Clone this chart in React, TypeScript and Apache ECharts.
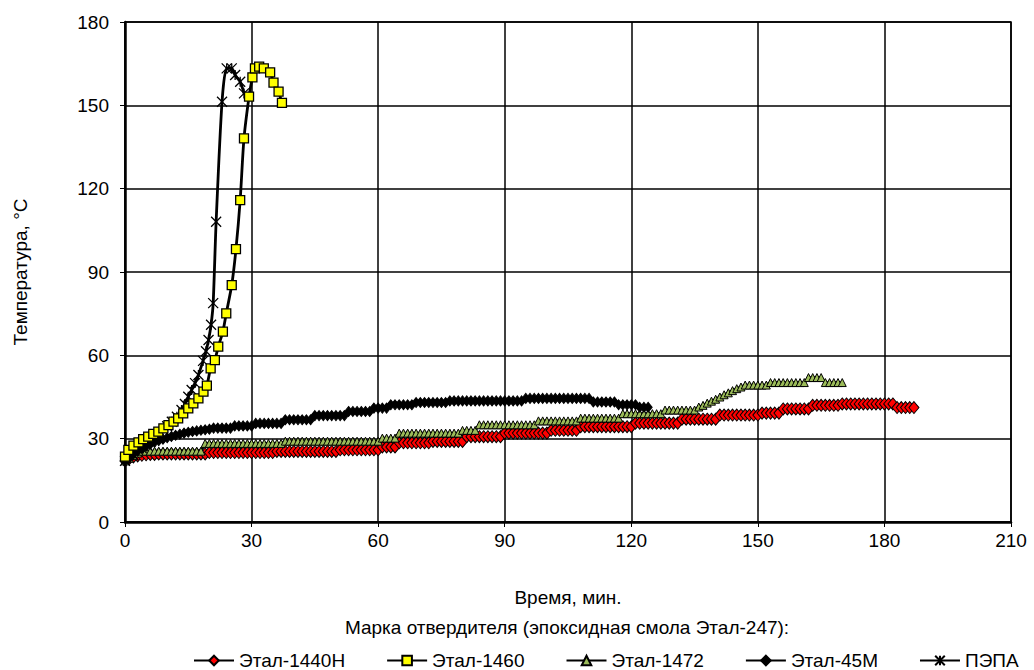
import React, { useEffect, useRef } from "react";
import * as echarts from "echarts";

const FONT = "Liberation Sans";

const seriesNames = ["Этал-1440Н", "Этал-1460", "Этал-1472", "Этал-45М", "ПЭПА"];
const xTicks = [0, 30, 60, 90, 120, 150, 180, 210];
const yTicks = [0, 30, 60, 90, 120, 150, 180];

// Этал-1440Н: one reading per minute, t = 0..187
const etal1440 = [
  22.0, 22.8, 23.4, 23.8, 24.0, 24.2, 24.3, 24.3,
  24.5, 24.5, 24.5, 24.5, 24.5, 24.5, 24.5, 24.5, 24.5, 24.5, 24.5, 24.5,
  25.0, 25.0, 25.0, 25.0, 25.0, 25.0, 25.0, 25.0, 25.0, 25.0, 25.0, 25.0, 25.0, 25.0, 25.0, 25.0,
  25.4, 25.4, 25.4, 25.4, 25.4, 25.4, 25.4, 25.4, 25.4, 25.4, 25.4, 25.4, 25.4, 25.4, 25.4,
  26.0, 26.0, 26.0, 26.0, 26.0, 26.0, 26.0, 26.0, 26.0, 26.0,
  27.0, 27.0, 27.0, 27.0,
  28.5, 28.5, 28.5, 28.5, 28.5, 28.5, 28.5, 28.5,
  29.0, 29.0, 29.0, 29.0, 29.0, 29.0, 29.0, 29.0,
  30.7, 30.7, 30.7, 30.7, 30.7, 30.7, 30.7, 30.7, 30.7,
  32.0, 32.0, 32.0, 32.0, 32.0, 32.0, 32.0, 32.0, 32.0, 32.0, 32.0,
  33.0, 33.0, 33.0, 33.0, 33.0, 33.0, 33.0,
  34.3, 34.3, 34.3, 34.3, 34.3, 34.3, 34.3, 34.3, 34.3, 34.3, 34.3, 34.3, 34.3,
  35.6, 35.6, 35.6, 35.6, 35.6, 35.6, 35.6, 35.6, 35.6, 35.6, 35.6,
  37.0, 37.0, 37.0, 37.0, 37.0, 37.0, 37.0, 37.0, 37.0,
  38.5, 38.5, 38.5, 38.5, 38.5, 38.5, 38.5, 38.5, 38.5, 38.5,
  39.2, 39.2, 39.2, 39.2, 39.2,
  40.7, 40.7, 40.7, 40.7, 40.7, 40.7, 40.7,
  42.0, 42.0, 42.0, 42.0, 42.0, 42.0, 42.0,
  42.5, 42.5, 42.5, 42.5, 42.5, 42.5, 42.5, 42.5, 42.5, 42.5, 42.5, 42.5, 42.5,
  41.2, 41.2, 41.2, 41.2, 41.2,
];

// Этал-1472: one reading per minute, t = 0..170
const etal1472 = [
  22.0, 23.0, 24.0, 24.8,
  25.5, 25.5, 25.5, 25.5, 25.5, 25.5, 25.5, 25.5, 25.5, 25.5, 25.5, 25.5, 25.5, 25.5, 25.5,
  28.3, 28.3, 28.3, 28.3, 28.3, 28.3, 28.3, 28.3, 28.3, 28.3, 28.3, 28.3, 28.3, 28.3, 28.3, 28.3, 28.3, 28.3, 28.3,
  29.1, 29.1, 29.1, 29.1, 29.1, 29.1, 29.1, 29.1, 29.1, 29.1, 29.1, 29.1, 29.1, 29.1, 29.1, 29.1, 29.1, 29.1, 29.1, 29.1, 29.1, 29.1, 29.1,
  30.2, 30.2, 30.2, 30.2,
  32.0, 32.0, 32.0, 32.0, 32.0, 32.0, 32.0, 32.0, 32.0, 32.0, 32.0, 32.0, 32.0, 32.0, 32.0,
  33.0, 33.0, 33.0, 33.0,
  35.0, 35.0, 35.0, 35.0, 35.0, 35.0, 35.0, 35.0, 35.0, 35.0, 35.0, 35.0, 35.0, 35.0,
  36.4, 36.4, 36.4, 36.4, 36.4, 36.4, 36.4, 36.4, 36.4, 36.4,
  37.4, 37.4, 37.4, 37.4, 37.4, 37.4, 37.4, 37.4, 37.4, 37.4,
  39.0, 39.0, 39.0, 39.0, 39.0, 39.0, 39.0, 39.0, 39.0, 39.0,
  40.3, 40.3, 40.3, 40.3, 40.3, 40.3, 40.3, 40.3,
  41.4, 42.0, 42.8, 43.5, 44.2, 45.0, 45.8, 46.5, 47.3, 48.0, 48.6,
  49.3, 49.3, 49.3, 49.3, 49.3, 49.3,
  50.2, 50.2, 50.2, 50.2, 50.2, 50.2, 50.2, 50.2, 50.2,
  52.0, 52.0, 52.0, 52.0,
  50.2, 50.2, 50.2, 50.2, 50.2,
];

// Этал-45М: one reading per minute, t = 0..124
const etal45 = [
  22.0, 23.0, 24.5, 25.5, 26.5, 27.3, 28.0, 28.7, 29.3, 29.8, 30.3, 30.8, 31.2, 31.6, 32.0, 32.3, 32.6, 32.8, 33.0, 33.2, 33.4,
  33.8, 33.8, 33.8, 33.8, 33.8,
  34.6, 34.6, 34.6, 34.6, 34.6,
  35.5, 35.5, 35.5, 35.5, 35.5, 35.5, 35.5,
  36.8, 36.8, 36.8, 36.8, 36.8, 36.8, 36.8,
  38.3, 38.3, 38.3, 38.3, 38.3, 38.3, 38.3, 38.3,
  39.8, 39.8, 39.8, 39.8, 39.8, 39.8,
  41.0, 41.0, 41.0, 41.0,
  42.2, 42.2, 42.2, 42.2, 42.2, 42.2,
  43.0, 43.0, 43.0, 43.0, 43.0, 43.0, 43.0, 43.0,
  43.6, 43.6, 43.6, 43.6, 43.6, 43.6, 43.6, 43.6, 43.6, 43.6, 43.6, 43.6, 43.6, 43.6, 43.6, 43.6, 43.6, 43.6,
  44.5, 44.5, 44.5, 44.5, 44.5, 44.5, 44.5, 44.5, 44.5, 44.5, 44.5, 44.5, 44.5, 44.5, 44.5, 44.5,
  43.2, 43.2, 43.2, 43.2, 43.2, 43.2,
  42.2, 42.2, 42.2, 42.2, 42.2,
  41.3, 41.3, 41.3,
];

// Этал-1460
const etal1460Time = [0, 0.8, 2, 3.2, 4.3, 5.5, 6.7, 7.9, 9.1, 10.3, 11.5, 12.6, 13.8, 15, 16.2, 17.4, 18.6, 19.4, 20.3, 21.3, 22.1, 23.2, 24, 25.3, 26.3, 27.3, 28.2, 29.4, 30.2, 30.8, 31.8, 32.9, 34.4, 35.2, 36.4, 37.2];
const etal1460Temp = [23.5, 26, 27.5, 28.7, 29.8, 30.7, 31.7, 32.5, 33.7, 34.9, 36.1, 37.3, 39.1, 40.9, 42.7, 44.5, 46.9, 49.1, 55.3, 58.3, 63.1, 68.5, 75.1, 85.3, 98.2, 115.9, 138.1, 153.1, 160.1, 163.3, 163.9, 163.3, 161.9, 158.2, 154.9, 150.9];

// ПЭПА
const pepaTime = [0, 2, 4, 6, 8, 10, 11.1, 12.3, 13.4, 14.2, 15, 15.8, 16.6, 17.4, 18.5, 19.2, 19.8, 20.4, 20.9, 21.6, 23.0, 24.1, 25.3, 26.1, 27.3, 28.2];
const pepaTemp = [22, 24, 26.5, 29, 31.5, 34.5, 36.1, 37.9, 40.3, 42.5, 45.1, 47.5, 50, 52.9, 58, 61.5, 65.5, 71, 78.8, 108.1, 151.3, 163.3, 163.3, 160.9, 158.5, 154.3];

const perMinute = (vals: number[]) => vals.map((v, i) => [i, v]);
const paired = (t: number[], v: number[]) => t.map((x, i) => [x, v[i]]);

const STAR = "path://M0,0L10,10M10,0L0,10M5,0L5,10";

export default function App() {
  const ref = useRef<HTMLDivElement>(null);
  useEffect(() => {
    document.body.style.margin = "0";
    if (!ref.current) return;
    const chart = echarts.init(ref.current, undefined, { renderer: "svg" });
    const line = { color: "#000", width: 2.8 };
    const txt = { fontFamily: FONT, fontSize: 19, color: "#000" };
    chart.setOption({
      animation: false,
      backgroundColor: "#fff",
      textStyle: { fontFamily: FONT, color: "#000" },
      grid: {
        left: 125,
        right: 23,
        top: 22,
        bottom: 148,
        show: true,
        borderColor: "#000",
        borderWidth: 1.5,
        backgroundColor: "transparent",
      },
      graphic: [
        {
          type: "text",
          x: 567,
          y: 627,
          style: {
            text: "Марка отвердителя (эпоксидная смола Этал-247):",
            fontFamily: FONT,
            fontSize: 19,
            fill: "#000",
            align: "center",
            verticalAlign: "middle",
          },
        },
      ],
      legend: {
        data: seriesNames,
        top: 646,
        left: 188,
        itemWidth: 40,
        itemHeight: 12,
        itemGap: 41,
        textStyle: txt,
      },
      xAxis: {
        type: "value",
        min: xTicks[0],
        max: xTicks[xTicks.length - 1],
        interval: 30,
        name: "Время, мин.",
        nameLocation: "middle",
        nameGap: 66,
        nameTextStyle: txt,
        axisLine: { show: true, lineStyle: { color: "#000", width: 2.5 } },
        axisTick: { show: true, length: 5, lineStyle: { color: "#000", width: 1 } },
        axisLabel: { ...txt, margin: 9 },
        splitLine: { show: true, lineStyle: { color: "#000", width: 1.5 } },
      },
      yAxis: {
        type: "value",
        min: yTicks[0],
        max: yTicks[yTicks.length - 1],
        interval: 30,
        name: "Температура, °С",
        nameLocation: "middle",
        nameGap: 95,
        nameTextStyle: txt,
        axisLine: { show: true, lineStyle: { color: "#000", width: 2.5 } },
        axisTick: { show: true, length: 5, lineStyle: { color: "#000", width: 1 } },
        axisLabel: { ...txt, margin: 16 },
        splitLine: { show: true, lineStyle: { color: "#000", width: 1.5 } },
      },
      series: [
        {
          name: seriesNames[0],
          type: "line",
          data: perMinute(etal1440),
          symbol: "diamond",
          symbolSize: [10, 12],
          lineStyle: line,
          itemStyle: { color: "#ff0000", borderColor: "#000", borderWidth: 1 },
          z: 3,
        },
        {
          name: seriesNames[1],
          type: "line",
          data: paired(etal1460Time, etal1460Temp),
          symbol: "rect",
          symbolSize: 9,
          smooth: 0.25,
          lineStyle: line,
          itemStyle: { color: "#ffff00", borderColor: "#000", borderWidth: 1.3 },
          z: 6,
        },
        {
          name: seriesNames[2],
          type: "line",
          data: perMinute(etal1472),
          symbol: "triangle",
          symbolSize: 8,
          lineStyle: line,
          itemStyle: { color: "#9bbb59", borderColor: "#000", borderWidth: 1 },
          z: 4,
        },
        {
          name: seriesNames[3],
          type: "line",
          data: perMinute(etal45),
          symbol: "diamond",
          symbolSize: [8, 10],
          lineStyle: line,
          itemStyle: { color: "#000", borderColor: "#000", borderWidth: 1 },
          z: 5,
        },
        {
          name: seriesNames[4],
          type: "line",
          data: paired(pepaTime, pepaTemp),
          symbol: STAR,
          symbolSize: 10,
          smooth: 0.25,
          lineStyle: line,
          itemStyle: { color: "#000", borderColor: "#000", borderWidth: 1.3 },
          z: 5,
        },
      ],
    });
    return () => chart.dispose();
  }, []);
  return <div ref={ref} style={{ width: 1034, height: 670 }} />;
}
